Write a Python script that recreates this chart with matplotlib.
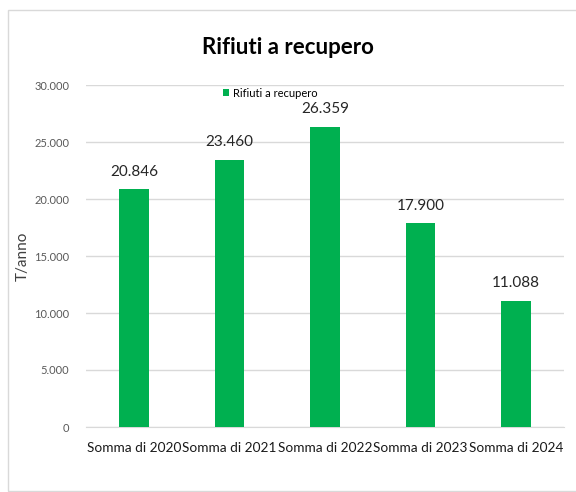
import matplotlib.pyplot as plt
from matplotlib.patches import Rectangle

categories = ["Somma di 2020", "Somma di 2021", "Somma di 2022", "Somma di 2023", "Somma di 2024"]
values = [20846, 23460, 26359, 17900, 11088]
value_labels = ["20.846", "23.460", "26.359", "17.900", "11.088"]
yticks = [0, 5000, 10000, 15000, 20000, 25000, 30000]
ytick_labels = ["0", "5.000", "10.000", "15.000", "20.000", "25.000", "30.000"]

plt.rcParams["font.family"] = ["Lato", "DejaVu Sans"]

fig = plt.figure(figsize=(5.76, 4.92), dpi=100)
W, H = 576, 492
ax = fig.add_axes([86 / W, 1 - 427 / H, (564 - 86) / W, (427 - 85) / H])

green = "#00b050"
x = range(len(categories))
bars = ax.bar(x, values, width=0.31, color=green, label="Rifiuti a recupero", zorder=3)

for bar, lab in zip(bars, value_labels):
    ax.text(bar.get_x() + bar.get_width() / 2, bar.get_height() + 900, lab,
            ha="center", va="bottom", fontsize=11, color="#262626")

ax.set_xlim(-0.5, len(categories) - 0.5)
ax.set_ylim(0, 30000)
ax.set_yticks(yticks)
ax.set_yticklabels(ytick_labels, fontsize=8, color="#595959")
ax.set_xticks(list(x))
ax.set_xticklabels(categories, fontsize=9.8, color="#1a1a1a")
ax.tick_params(axis="both", length=0)
ax.tick_params(axis="x", pad=11)
ax.tick_params(axis="y", pad=12)
ax.grid(axis="y", color="#d9d9d9", linewidth=1, zorder=0)
for s in ["top", "right", "left"]:
    ax.spines[s].set_visible(False)
ax.spines["bottom"].set_color("#d9d9d9")

ax.set_ylabel("T/anno", fontsize=11, color="#404040")
ax.yaxis.set_label_coords(-0.118, 0.5)

fig.text(0.5, 1 - 48 / H, "Rifiuti a recupero", ha="center", va="center",
         fontsize=16, fontweight="bold", color="#000000")

ax.legend(loc="upper center", bbox_to_anchor=(0.385, 1.005), frameon=False,
          fontsize=8, handlelength=0.6, handleheight=0.6, handletextpad=0.3,
          borderaxespad=0.0)

fig.patches.append(Rectangle((8 / W, 0.002), 1.0, 1 - 10 / H - 0.002, transform=fig.transFigure,
                             fill=False, edgecolor="#d9d9d9", linewidth=1))

fig.savefig("out.png", dpi=100)
